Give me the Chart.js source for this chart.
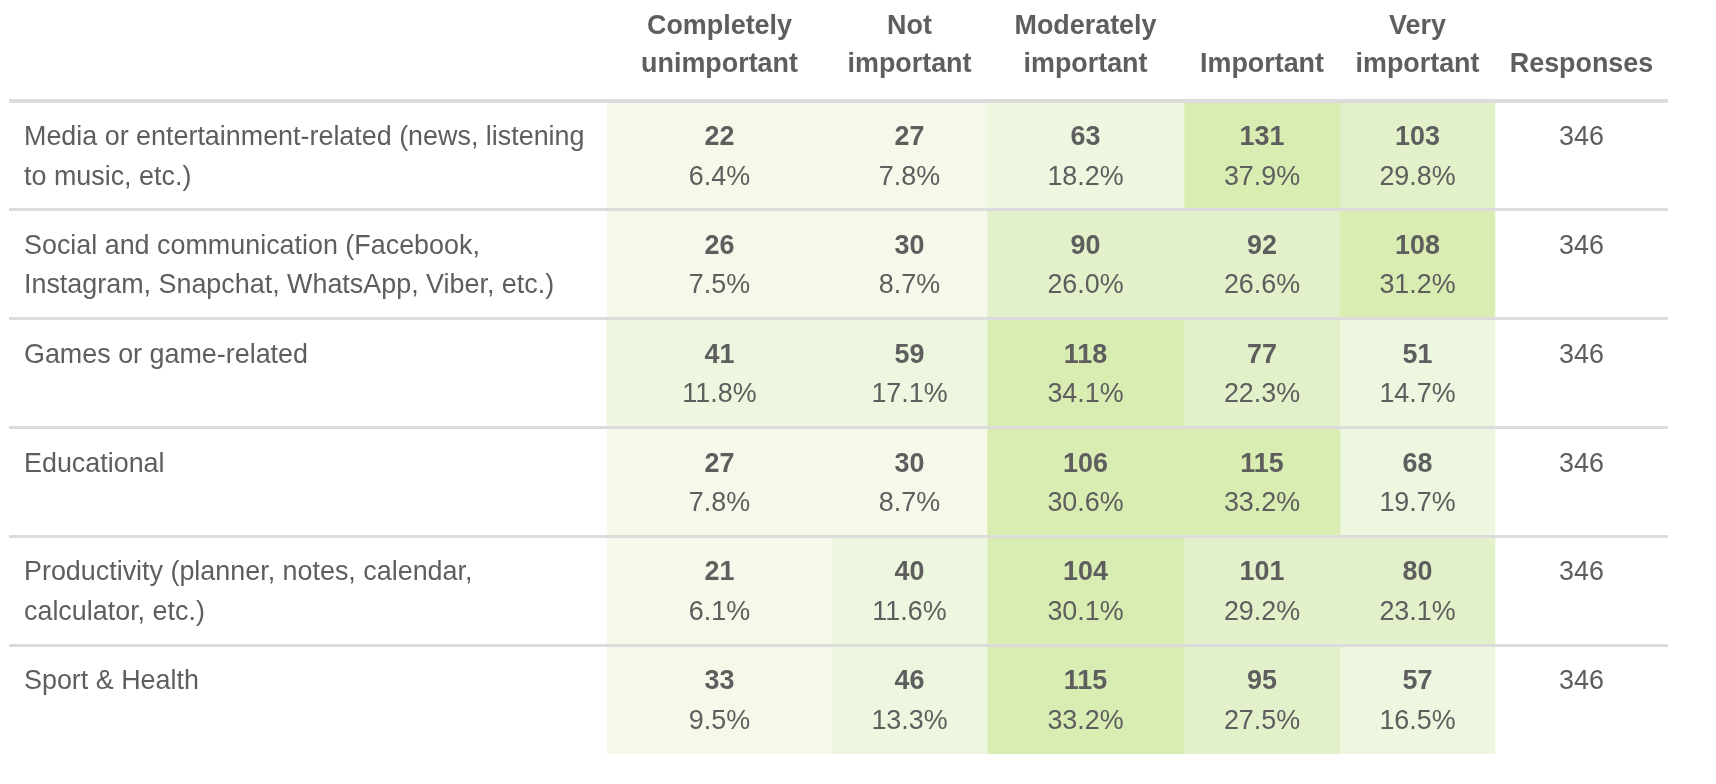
<!DOCTYPE html>
<html>
<head>
<meta charset="utf-8">
<title>Importance of app categories</title>
<script src="https://cdn.jsdelivr.net/npm/chart.js@4.4.1/dist/chart.umd.min.js"></script>
<style>
  html, body { margin: 0; padding: 0; background: #fff; }
  #wrap { width: 1716px; height: 784px; }
</style>
</head>
<body>
<div id="wrap"><canvas id="tabela" width="1716" height="784"></canvas></div>
<script>
// categorias (linhas da tabela)
const rowLabels = [
  ['Media or entertainment-related (news, listening', 'to music, etc.)'],
  ['Social and communication (Facebook,', 'Instagram, Snapchat, WhatsApp, Viber, etc.)'],
  ['Games or game-related', ''],
  ['Educational', ''],
  ['Productivity (planner, notes, calendar,', 'calculator, etc.)'],
  ['Sport & Health', '']
];

// cabeçalhos das colunas
const columnLabels = [
  ['Completely', 'unimportant'],
  ['Not', 'important'],
  ['Moderately', 'important'],
  ['', 'Important'],
  ['Very', 'important'],
  ['', 'Responses']
];

// contagens por coluna
const completelyUnimportant = [22, 26, 41, 27, 21, 33];
const notImportant = [27, 30, 59, 30, 40, 46];
const moderatelyImportant = [63, 90, 118, 106, 104, 115];
const important = [131, 92, 77, 115, 101, 95];
const veryImportant = [103, 108, 51, 68, 80, 57];

// percentuais por coluna
const pctCompletelyUnimportant = [6.4, 7.5, 11.8, 7.8, 6.1, 9.5];
const pctNotImportant = [7.8, 8.7, 17.1, 8.7, 11.6, 13.3];
const pctModeratelyImportant = [18.2, 26.0, 34.1, 30.6, 30.1, 33.2];
const pctImportant = [37.9, 26.6, 22.3, 33.2, 29.2, 27.5];
const pctVeryImportant = [29.8, 31.2, 14.7, 19.7, 23.1, 16.5];

const responses = [346, 346, 346, 346, 346, 346];

// estilo / layout
const fontFamily = "'Liberation Sans', Arial, Helvetica, sans-serif";
const fontSize = 26.9;
const textColor = '#5e5e5e';
const lineColor = '#dcdcdc';
const colWidths = [598, 225, 155, 197, 156, 155, 173]; // rótulo, 5 colunas, respostas
const headerHeight = 101;
const rowLineGap = 39.5;
const textShift = 2;
const binColors = ['#f4f9ea', '#edf6df', '#e3f1ca', '#d9ecb2'];

function binColor(pct) {
  if (pct < 10) return binColors[0];
  if (pct < 20) return binColors[1];
  if (pct < 30) return binColors[2];
  return binColors[3];
}

const valueColumns = [
  { counts: completelyUnimportant, pcts: pctCompletelyUnimportant },
  { counts: notImportant, pcts: pctNotImportant },
  { counts: moderatelyImportant, pcts: pctModeratelyImportant },
  { counts: important, pcts: pctImportant },
  { counts: veryImportant, pcts: pctVeryImportant }
];

const totalWidth = colWidths.reduce((a, b) => a + b, 0);
const colStarts = colWidths.map((w, i) => colWidths.slice(0, i).reduce((a, b) => a + b, 0));
const headerCenters = colStarts.slice(1).map((s, i) => s + colWidths[i + 1] / 2);

const transparent = 'rgba(0,0,0,0)';
const datasets = [];
datasets.push({ label: 'rotulo', data: rowLabels.map(() => colWidths[0]), backgroundColor: transparent });
valueColumns.forEach((col, c) => {
  datasets.push({
    label: columnLabels[c].join(' ').trim(),
    data: rowLabels.map(() => colWidths[c + 1]),
    backgroundColor: col.pcts.map(binColor)
  });
});
datasets.push({ label: 'Responses', data: rowLabels.map(() => colWidths[6]), backgroundColor: transparent });

// escreve números e percentuais dentro das células
const textoCelulas = {
  id: 'textoCelulas',
  afterDatasetsDraw(chart) {
    const ctx = chart.ctx;
    ctx.save();
    ctx.textAlign = 'center';
    ctx.textBaseline = 'middle';
    ctx.fillStyle = textColor;
    valueColumns.forEach((col, c) => {
      chart.getDatasetMeta(c + 1).data.forEach((bar, i) => {
        const p = bar.getProps(['x', 'base', 'y'], true);
        const cx = (p.x + p.base) / 2;
        const cy = p.y + textShift;
        ctx.font = 'bold ' + fontSize + 'px ' + fontFamily;
        ctx.fillText(String(col.counts[i]), cx, cy - rowLineGap / 2);
        ctx.font = fontSize + 'px ' + fontFamily;
        ctx.fillText(col.pcts[i].toFixed(1) + '%', cx, cy + rowLineGap / 2);
      });
    });
    ctx.font = fontSize + 'px ' + fontFamily;
    chart.getDatasetMeta(6).data.forEach((bar, i) => {
      const p = bar.getProps(['x', 'base', 'y'], true);
      ctx.fillText(String(responses[i]), (p.x + p.base) / 2, p.y + textShift - rowLineGap / 2);
    });
    ctx.restore();
  }
};

new Chart(document.getElementById('tabela'), {
  type: 'bar',
  data: { labels: rowLabels, datasets: datasets },
  plugins: [textoCelulas],
  options: {
    indexAxis: 'y',
    responsive: false,
    animation: false,
    devicePixelRatio: 1,
    barPercentage: 1,
    categoryPercentage: 1,
    borderWidth: 0,
    layout: { padding: { left: 9, right: 48, top: 0, bottom: 30 } },
    plugins: { legend: { display: false }, tooltip: { enabled: false } },
    scales: {
      x: {
        type: 'linear',
        position: 'top',
        stacked: true,
        min: 0,
        max: totalWidth,
        grid: { display: false, drawTicks: false },
        border: { display: false },
        afterBuildTicks(scale) {
          scale.ticks = headerCenters.map(v => ({ value: v }));
        },
        afterFit(scale) {
          scale.height = headerHeight;
          scale.paddingLeft = 0;
          scale.paddingRight = 0;
        },
        ticks: {
          autoSkip: false,
          maxRotation: 0,
          minRotation: 0,
          padding: 17,
          color: textColor,
          font: { family: fontFamily, size: fontSize, weight: 'bold', lineHeight: 38 / fontSize },
          callback: (value, index) => columnLabels[index]
        }
      },
      y: {
        type: 'category',
        position: 'left',
        stacked: true,
        offset: true,
        grid: {
          offset: true,
          z: 1,
          drawTicks: false,
          color: c => c.type === 'tick' ? lineColor : transparent,
          lineWidth: c => c.type !== 'tick' ? 0 : (c.index === 0 ? 4 : 3)
        },
        border: { display: false },
        afterFit(scale) {
          scale.width = 0;
          scale.paddingTop = 0;
          scale.paddingBottom = 0;
        },
        ticks: {
          mirror: true,
          padding: 15,
          labelOffset: textShift,
          autoSkip: false,
          color: textColor,
          font: { family: fontFamily, size: fontSize, lineHeight: rowLineGap / fontSize }
        }
      }
    }
  }
});
</script>
</body>
</html>
